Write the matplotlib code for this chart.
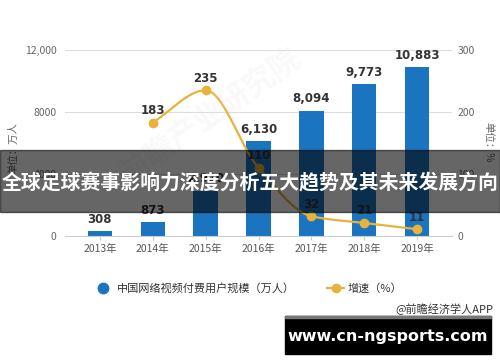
import numpy as np
import matplotlib.pyplot as plt
from matplotlib.patches import Rectangle
from matplotlib.lines import Line2D

plt.rcParams['font.family'] = ['Noto Sans CJK SC', 'DejaVu Sans']

years = ["2013年", "2014年", "2015年", "2016年", "2017年", "2018年", "2019年"]
users = [308, 873, 2920, 6130, 8094, 9773, 10883]
user_labels = ["308", "873", "2,920", "6,130", "8,094", "9,773", "10,883"]
growth_years = [1, 2, 3, 4, 5, 6]
growth = [183, 235, 110, 32, 21, 11]

blue = "#1b74bf"
gold = "#e8b23c"


def smooth(xs, ys, n=30):
    # monotone cubic (fritsch-carlson), no overshoot at the peak
    xs = np.asarray(xs, float)
    ys = np.asarray(ys, float)
    d = np.diff(ys) / np.diff(xs)
    m = np.zeros_like(ys)
    m[0], m[-1] = d[0], d[-1]
    for i in range(1, len(ys) - 1):
        if d[i - 1] * d[i] <= 0:
            m[i] = 0
        else:
            m[i] = 2 / (1 / d[i - 1] + 1 / d[i])
    ox, oy = [], []
    t = np.linspace(0, 1, n)
    for i in range(len(xs) - 1):
        h = xs[i + 1] - xs[i]
        h00 = 2 * t**3 - 3 * t**2 + 1
        h10 = t**3 - 2 * t**2 + t
        h01 = -2 * t**3 + 3 * t**2
        h11 = t**3 - t**2
        ox.extend(xs[i] + t * h)
        oy.extend(h00 * ys[i] + h10 * h * m[i] + h01 * ys[i + 1] + h11 * h * m[i + 1])
    return np.array(ox), np.array(oy)


fig = plt.figure(figsize=(5, 3.62), dpi=100)
ax = fig.add_axes([0.13, 0.348, 0.774, 0.514])
ax2 = ax.twinx()

x = np.arange(len(years))
ax.bar(x, users, width=0.46, color=blue, zorder=2)
for xi, v, lab in zip(x, users, user_labels):
    ax.text(xi, v + 350, lab, ha="center", va="bottom", fontsize=8.5,
            fontweight="bold", color="#333333", family="DejaVu Sans")

ax.set_ylim(0, 12000)
ax.set_xlim(-0.66, 6.66)
ax.set_yticks([0, 4000, 8000, 12000])
ax.set_yticklabels(["0", "4000", "8000", "12,000"])
ax.set_xticks(x)
ax.set_xticklabels(years)
ax.grid(axis="y", color="#dddddd", linewidth=0.8, zorder=0)
ax.set_axisbelow(True)
for s in ["top", "right", "left"]:
    ax.spines[s].set_visible(False)
    ax2.spines[s].set_visible(False)
ax2.spines["bottom"].set_visible(False)
ax.spines["bottom"].set_color("#cccccc")
ax.tick_params(axis="y", length=0, labelsize=7.5, labelcolor="#666666", pad=6)
ax.tick_params(axis="x", length=3, color="#cccccc", labelsize=7.5,
               labelcolor="#555555", pad=3)

sx, sy = smooth(growth_years, growth)
ax2.plot(sx, sy, color=gold, linewidth=1.6, zorder=3)
ax2.plot(growth_years, growth, "o", color=gold, markersize=6, zorder=4)
for xi, v in zip(growth_years, growth):
    ax2.text(xi, v + 9, str(v), ha="center", va="bottom", fontsize=8.5,
             fontweight="bold", color="#333333", family="DejaVu Sans")
ax2.set_ylim(0, 300)
ax2.set_yticks([0, 100, 200, 300])
ax2.tick_params(axis="y", length=0, labelsize=7.5, labelcolor="#666666", pad=4)

fig.text(0.026, 1 - 148 / 362, "单位：万人", rotation=90, ha="center", va="center",
         fontsize=7.5, color="#666666")
fig.text(0.976, 1 - 142 / 362, "单位：%", rotation=-90, ha="center", va="center",
         fontsize=7.5, color="#666666")

# faint watermark
fig.text(0.42, 0.68, "前瞻产业研究院", rotation=35, ha="center", va="center",
         fontsize=22, color="#e4e4e4", alpha=0.2, fontweight="bold")

# legend
ly = 1 - 288 / 362
fig.add_artist(Line2D([0.206], [ly], marker="o", color=blue,
                      markersize=7.5, linestyle="none"))
fig.text(0.234, ly, "中国网络视频付费用户规模（万人）", ha="left",
         va="center", fontsize=8, color="#333333")
fig.add_artist(Line2D([0.654, 0.688], [ly, ly], color=gold, linewidth=1.6))
fig.add_artist(Line2D([0.671], [ly], marker="o", color=gold,
                      markersize=6, linestyle="none"))
fig.text(0.696, ly, "增速（%）", ha="left", va="center",
         fontsize=8, color="#333333")
fig.text(0.986, 1 - 309 / 362, "@前瞻经济学人APP", ha="right", va="center",
         fontsize=8, color="#333333")

# overlay banner
fig.add_artist(Rectangle((0, 1 - 212 / 362), 1, 62 / 362, transform=fig.transFigure,
                         color="black", alpha=0.6, zorder=10))
fig.text(0.5, 1 - 183 / 362, "全球足球赛事影响力深度分析五大趋势及其未来发展方向",
         ha="center", va="center", fontsize=14.3, fontweight="bold",
         color="white", zorder=11)

# site box
fig.add_artist(Rectangle((285 / 500, 1 - 354 / 362), 206 / 500, 38 / 362,
                         transform=fig.transFigure, color="black", zorder=10))
fig.add_artist(Rectangle((285 / 500, 1 - 318 / 362), 206 / 500, 2.5 / 362,
                         transform=fig.transFigure, color="#777777", zorder=10))
fig.text(388 / 500, 1 - 336 / 362, "www.cn-ngsports.com", ha="center", va="center",
         fontsize=11.5, fontweight="bold", color="white", family="DejaVu Sans",
         zorder=11)

fig.savefig("out.png", dpi=100)
